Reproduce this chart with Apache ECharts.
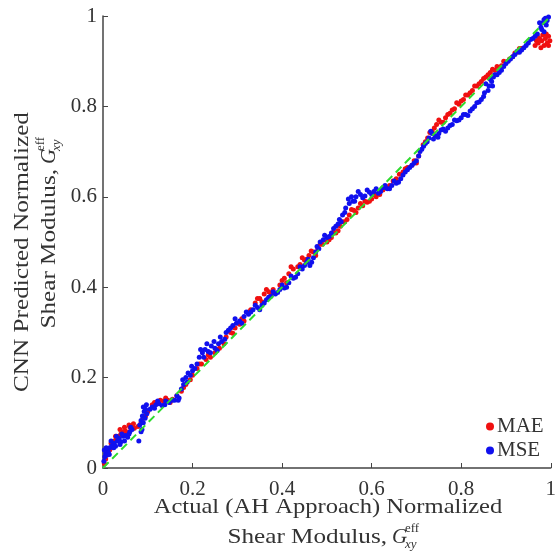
<!DOCTYPE html>
<html>
<head>
<meta charset="utf-8">
<script src="https://cdn.jsdelivr.net/npm/echarts@6/dist/echarts.min.js"></script>
<style>
  html, body { margin: 0; padding: 0; background: #fff; }
  #main { width: 559px; height: 552px; }
</style>
</head>
<body>
<div id="main"></div>
<script>
// MAE 预测值 [实际, 预测]
const maeData = [
  [0.003,0.010],[0.006,0.020],[0.010,0.030],[0.015,0.040],[0.020,0.045],[0.025,0.060],[0.030,0.065],
  [0.035,0.070],[0.040,0.075],[0.045,0.080],[0.050,0.082],[0.055,0.078],[0.060,0.090],[0.065,0.092],
  [0.070,0.088],[0.085,0.100],[0.090,0.110],[0.095,0.115],[0.110,0.140],[0.120,0.145],[0.128,0.150],
  [0.135,0.148],[0.145,0.150],[0.155,0.152],[0.175,0.170],[0.185,0.185],[0.195,0.195],[0.210,0.220],
  [0.220,0.230],[0.230,0.240],[0.240,0.245],[0.250,0.255],[0.260,0.265],[0.270,0.275],[0.285,0.300],
  [0.295,0.310],[0.305,0.318],[0.315,0.325],[0.330,0.350],[0.340,0.365],[0.350,0.375],[0.360,0.385],
  [0.370,0.390],[0.380,0.395],[0.395,0.405],[0.405,0.420],[0.415,0.430],[0.425,0.440],[0.440,0.450],
  [0.450,0.460],[0.460,0.470],[0.470,0.478],[0.480,0.485],[0.490,0.495],[0.500,0.500],[0.510,0.510],
  [0.520,0.520],[0.530,0.535],[0.540,0.545],[0.550,0.560],[0.560,0.570],[0.570,0.575],[0.580,0.580],
  [0.590,0.588],[0.600,0.595],[0.610,0.600],[0.625,0.615],[0.640,0.625],[0.655,0.640],[0.670,0.655],
  [0.680,0.665],[0.690,0.670],[0.700,0.675],[0.715,0.715],[0.725,0.730],[0.735,0.745],[0.745,0.760],
  [0.755,0.765],[0.765,0.775],[0.775,0.785],[0.785,0.795],[0.795,0.805],[0.805,0.815],[0.815,0.825],
  [0.825,0.835],[0.835,0.845],[0.845,0.855],[0.855,0.865],[0.865,0.875],[0.875,0.880],[0.890,0.890],
  [0.900,0.898],[0.915,0.910],[0.925,0.920],[0.935,0.928],[0.965,0.935],[0.972,0.940],[0.980,0.945],
  [0.988,0.950],[0.995,0.955],[0.998,0.945],[0.990,0.960],[0.985,0.935],[0.975,0.950],[0.995,0.935],
  [0.008,0.035],[0.018,0.055],[0.028,0.070],[0.038,0.085],[0.048,0.090],[0.058,0.095],[0.068,0.098],
  [0.078,0.092],[0.100,0.125],[0.115,0.145],[0.140,0.155],[0.150,0.145],[0.165,0.160],[0.180,0.178],
  [0.200,0.205],[0.215,0.230],[0.235,0.250],[0.255,0.262],[0.275,0.290],[0.290,0.298],[0.310,0.330],
  [0.325,0.345],[0.345,0.375],[0.355,0.368],[0.365,0.395],[0.375,0.385],[0.400,0.415],[0.410,0.410],
  [0.420,0.445],[0.435,0.445],[0.445,0.465],[0.455,0.462],[0.465,0.480],[0.475,0.470],[0.485,0.495],
  [0.505,0.505],[0.515,0.522],[0.525,0.525],[0.535,0.545],[0.545,0.550],[0.555,0.572],[0.565,0.565],
  [0.575,0.585],[0.585,0.590],[0.595,0.590],[0.605,0.605],[0.618,0.605],[0.632,0.620],[0.648,0.635],
  [0.662,0.650],[0.675,0.662],[0.695,0.680],[0.705,0.690],[0.720,0.722],[0.730,0.742],[0.740,0.752],
  [0.750,0.770],[0.760,0.765],[0.770,0.782],[0.780,0.792],[0.790,0.808],[0.800,0.812],[0.810,0.825],
  [0.820,0.830],[0.830,0.845],[0.840,0.850],[0.850,0.862],[0.860,0.870],[0.870,0.882],[0.880,0.888],
  [0.895,0.900],[0.908,0.905],[0.920,0.918],[0.930,0.928],[0.968,0.945],[0.978,0.930],[0.992,0.940],
  [0.982,0.958],[0.970,0.955]
];

// MSE 预测值 [实际, 预测]
const mseData = [
  [0.002,0.015],[0.004,0.025],[0.006,0.032],[0.008,0.028],[0.010,0.040],[0.012,0.035],[0.015,0.045],
  [0.020,0.050],[0.025,0.055],[0.028,0.048],[0.032,0.060],[0.036,0.065],[0.040,0.058],[0.045,0.070],
  [0.050,0.072],[0.055,0.068],[0.060,0.080],[0.065,0.085],[0.080,0.060],[0.082,0.095],[0.085,0.105],
  [0.088,0.115],[0.090,0.100],[0.092,0.125],[0.095,0.130],[0.098,0.120],[0.110,0.135],[0.118,0.140],
  [0.125,0.142],[0.132,0.138],[0.140,0.148],[0.148,0.145],[0.160,0.150],[0.165,0.160],[0.170,0.155],
  [0.175,0.175],[0.180,0.185],[0.185,0.200],[0.190,0.210],[0.195,0.205],[0.200,0.215],[0.205,0.220],
  [0.215,0.245],[0.222,0.255],[0.228,0.262],[0.235,0.258],[0.242,0.270],[0.250,0.265],[0.258,0.275],
  [0.265,0.280],[0.272,0.285],[0.280,0.305],[0.290,0.315],[0.298,0.320],[0.305,0.325],[0.315,0.335],
  [0.325,0.340],[0.335,0.350],[0.345,0.355],[0.355,0.360],[0.365,0.372],[0.375,0.380],[0.385,0.385],
  [0.395,0.395],[0.405,0.398],[0.415,0.410],[0.425,0.420],[0.435,0.430],[0.445,0.440],[0.455,0.455],
  [0.462,0.448],[0.470,0.465],[0.478,0.490],[0.485,0.500],[0.492,0.505],[0.500,0.510],[0.510,0.520],
  [0.520,0.535],[0.528,0.550],[0.535,0.560],[0.542,0.575],[0.550,0.585],[0.558,0.590],[0.565,0.600],
  [0.575,0.605],[0.585,0.602],[0.595,0.610],[0.605,0.612],[0.615,0.608],[0.625,0.620],[0.635,0.618],
  [0.645,0.625],[0.655,0.630],[0.665,0.640],[0.675,0.655],[0.685,0.665],[0.695,0.675],[0.705,0.690],
  [0.712,0.705],[0.720,0.718],[0.728,0.730],[0.735,0.740],[0.742,0.735],[0.750,0.740],[0.760,0.750],
  [0.770,0.752],[0.780,0.760],[0.790,0.768],[0.800,0.775],[0.810,0.782],[0.820,0.790],[0.830,0.800],
  [0.840,0.810],[0.850,0.822],[0.860,0.835],[0.870,0.845],[0.855,0.850],[0.865,0.860],[0.872,0.865],
  [0.880,0.870],[0.890,0.880],[0.900,0.895],[0.910,0.905],[0.920,0.915],[0.930,0.920],[0.940,0.930],
  [0.950,0.940],[0.960,0.950],[0.970,0.960],[0.978,0.975],[0.982,0.985],[0.988,0.995],[0.992,0.990],
  [0.995,0.998],[0.985,0.965],
  [0.003,0.040],[0.007,0.045],[0.014,0.030],[0.018,0.060],[0.024,0.045],[0.030,0.070],[0.038,0.052],
  [0.042,0.075],[0.048,0.060],[0.058,0.075],[0.062,0.090],[0.085,0.080],[0.087,0.085],[0.090,0.135],
  [0.094,0.110],[0.097,0.140],[0.105,0.130],[0.115,0.132],[0.122,0.148],[0.138,0.140],[0.155,0.150],
  [0.168,0.150],[0.178,0.195],[0.188,0.190],[0.198,0.225],[0.210,0.230],[0.218,0.262],[0.225,0.245],
  [0.232,0.275],[0.240,0.255],[0.248,0.280],[0.255,0.260],[0.262,0.290],[0.275,0.300],[0.285,0.310],
  [0.295,0.330],[0.310,0.320],[0.320,0.345],[0.330,0.345],[0.340,0.360],[0.350,0.350],[0.360,0.365],
  [0.370,0.378],[0.380,0.390],[0.390,0.388],[0.400,0.405],[0.410,0.400],[0.420,0.425],[0.430,0.422],
  [0.440,0.445],[0.450,0.448],[0.458,0.462],[0.466,0.455],[0.475,0.478],[0.482,0.485],[0.495,0.515],
  [0.505,0.512],[0.515,0.530],[0.525,0.540],[0.532,0.545],[0.540,0.565],[0.548,0.595],[0.555,0.600],
  [0.562,0.590],[0.570,0.612],[0.580,0.598],[0.590,0.615],[0.600,0.605],[0.610,0.618],[0.620,0.612],
  [0.630,0.625],[0.640,0.618],[0.650,0.635],[0.660,0.632],[0.670,0.648],[0.680,0.660],[0.690,0.670],
  [0.700,0.680],[0.708,0.700],[0.716,0.712],[0.724,0.722],[0.732,0.745],[0.738,0.728],[0.748,0.732],
  [0.755,0.748],[0.765,0.745],[0.775,0.758],[0.785,0.770],[0.795,0.770],[0.805,0.782],[0.815,0.780],
  [0.825,0.795],[0.835,0.808],[0.845,0.815],[0.852,0.830],[0.862,0.845],[0.868,0.855],[0.875,0.870],
  [0.885,0.875],[0.895,0.888],[0.905,0.900],[0.915,0.910],[0.925,0.922],[0.935,0.925],[0.945,0.935],
  [0.955,0.948],[0.965,0.955],[0.975,0.985],[0.985,0.992],[0.990,0.980],[0.980,0.970]
];

// y = x 参考线
const refLine = [[0, 0], [1, 1]];

const serif = '"Liberation Serif", "DejaVu Serif", serif';
const txt = '#333';

// 标题文字, sx 横向拉伸以接近原图字体宽度
function label(text, x, y, size, align, italic, sx) {
  return {
    type: 'text',
    x: x,
    y: y,
    scaleX: sx || 1,
    style: {
      text: text,
      font: (italic ? 'italic ' : '') + size + 'px ' + serif,
      fill: txt,
      textAlign: align,
      align: align,
      textVerticalAlign: 'middle',
      verticalAlign: 'middle'
    }
  };
}

const chart = echarts.init(document.getElementById('main'));

const options = {
  animation: false,
  grid: { left: 103, right: 5, top: 16, bottom: 84 },
  legend: {
    data: ['MAE', 'MSE'],
    orient: 'vertical',
    left: 481,
    top: 411,
    itemWidth: 8,
    itemHeight: 8,
    itemGap: 3,
    icon: 'circle',
    textStyle: { fontFamily: serif, fontSize: 21, color: txt, padding: [0, 0, 0, -2] }
  },
  xAxis: {
    type: 'value',
    min: 0,
    max: 1,
    interval: 0.2,
    splitLine: { show: false },
    axisLine: { lineStyle: { color: '#444', width: 1.5 } },
    axisTick: { inside: true, length: 5, lineStyle: { color: '#444' } },
    axisLabel: { margin: 11, fontFamily: serif, fontSize: 21, color: txt }
  },
  yAxis: {
    type: 'value',
    min: 0,
    max: 1,
    interval: 0.2,
    splitLine: { show: false },
    axisLine: { show: true, lineStyle: { color: '#444', width: 1.5 } },
    axisTick: { show: true, inside: true, length: 5, lineStyle: { color: '#444' } },
    axisLabel: { margin: 6, fontFamily: serif, fontSize: 21, color: txt }
  },
  series: [
    {
      name: 'MAE',
      type: 'scatter',
      data: maeData,
      symbolSize: 5,
      itemStyle: { color: '#f01010', opacity: 1 }
    },
    {
      name: 'MSE',
      type: 'scatter',
      data: mseData,
      symbolSize: 5,
      itemStyle: { color: '#1010ee', opacity: 1 }
    },
    {
      name: 'ref',
      type: 'line',
      data: refLine,
      symbol: 'none',
      silent: true,
      lineStyle: { color: '#2edb2e', width: 2, type: [8, 5] }
    }
  ],
  graphic: [
    // x 轴标题
    label('Actual (AH Approach) Normalized', 328, 507, 21, 'center', false, 1.17),
    label('Shear Modulus,', 387, 537, 21, 'right', false, 1.2),
    label('G', 392, 537, 21, 'left', true),
    label('eff', 405, 529, 13, 'left'),
    label('xy', 405, 545, 13, 'left', true),
    // y 轴标题 (旋转)
    {
      type: 'group',
      x: 36,
      y: 252,
      rotation: Math.PI / 2,
      children: [
        label('CNN Predicted Normalized', 0, -14, 21, 'center', false, 1.2),
        label('Shear Modulus,', 83, 13, 21, 'right', false, 1.2),
        label('G', 88, 13, 21, 'left', true),
        label('eff', 101, 5, 13, 'left'),
        label('xy', 101, 21, 13, 'left', true)
      ]
    }
  ]
};

chart.setOption(options);
</script>
</body>
</html>
